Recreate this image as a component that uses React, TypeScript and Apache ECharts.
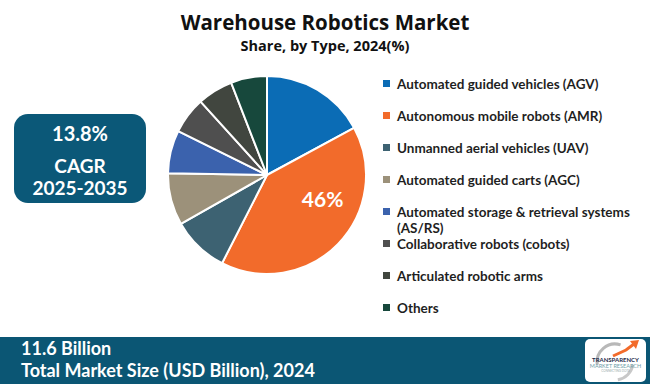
import React, { useEffect, useRef } from "react";
import * as echarts from "echarts";

const categories = [
  "Automated guided vehicles (AGV)",
  "Autonomous mobile robots (AMR)",
  "Unmanned aerial vehicles (UAV)",
  "Automated guided carts (AGC)",
  "Automated storage & retrieval systems\n(AS/RS)",
  "Collaborative robots (cobots)",
  "Articulated robotic arms",
  "Others",
];
const shares = [17.1, 40.4, 9.3, 8.5, 7.0, 6.0, 5.8, 5.9];
const colors = ["#0b6cb5", "#f26b2b", "#3d6272", "#9c917a", "#3b62ad", "#4f4f4f", "#41463f", "#17483c"];
const highlightIndex = 1;
const highlightLabel = "46%";
const titleText = "Warehouse Robotics Market";
const subtitleText = "Share, by Type, 2024(%)";
const cagrLines = ["13.8%", "CAGR", "2025-2035"];
const marketSize = "11.6 Billion";
const marketSizeLabel = "Total Market Size (USD Billion), 2024";

const FONT = "Lato, 'Open Sans', sans-serif";
const WIDE = "'Open Sans', Lato, sans-serif";
const NAVY = "#0b5878";

export default function App() {
  const ref = useRef<HTMLDivElement>(null);
  useEffect(() => {
    document.body.style.margin = "0";
    const chart = echarts.init(ref.current!, null, { renderer: "svg" });

    const legendEls: any[] = [];
    categories.forEach((name, i) => {
      const y = 84 + 32 * i;
      legendEls.push({
        type: "rect",
        shape: { x: 383, y: y - 4, width: 7, height: 7 },
        style: { fill: colors[i] },
      });
      legendEls.push({
        type: "text",
        x: 397,
        y: y - 8.5,
        style: {
          text: name,
          fill: "#1f1f1f",
          font: `bold 13.5px ${FONT}`,
          lineHeight: 16,
          textVerticalAlign: "top",
        },
      });
    });

    chart.setOption({
      animation: false,
      backgroundColor: "#ffffff",
      title: [
        {
          text: titleText,
          left: "center",
          top: 6,
          textStyle: { fontFamily: WIDE, fontWeight: "bold", fontSize: 20.5, color: "#111" },
        },
        {
          text: subtitleText,
          left: "center",
          top: 33,
          textStyle: { fontFamily: WIDE, fontWeight: "bold", fontSize: 14.5, color: "#111" },
        },
      ],
      series: [
        {
          type: "pie",
          center: [267, 175],
          radius: 99,
          startAngle: 90,
          clockwise: true,
          silent: true,
          itemStyle: { borderColor: "#ffffff", borderWidth: 2 },
          label: { show: false },
          labelLine: { show: false },
          data: categories.map((name, i) => ({
            name,
            value: shares[i],
            itemStyle: { color: colors[i] },
            label:
              i === highlightIndex
                ? {
                    show: true,
                    position: "inside",
                    formatter: () => highlightLabel,
                    offset: [18, -13],
                    color: "#fff",
                    fontFamily: FONT,
                    fontWeight: "bold",
                    fontSize: 21,
                  }
                : { show: false },
          })),
        },
      ],
      graphic: [
        {
          type: "rect",
          shape: { x: 14, y: 114, width: 132, height: 89, r: 14 },
          style: { fill: NAVY },
        },
        ...cagrLines.map((t, i) => ({
          type: "text",
          x: 80,
          y: [133, 165, 187][i],
          style: {
            text: t,
            fill: "#fff",
            font: `bold ${i === 0 ? 20 : 19}px ${FONT}`,
            textAlign: "center",
            textVerticalAlign: "middle",
          },
        })),
        ...legendEls,
        {
          type: "rect",
          shape: { x: 0, y: 337, width: 650, height: 47 },
          style: { fill: "#0b5674" },
        },
        {
          type: "text",
          x: 21,
          y: 337,
          style: {
            text: `${marketSize}\n${marketSizeLabel}`,
            fill: "#fff",
            font: `bold 18px ${FONT}`,
            lineHeight: 22,
            textVerticalAlign: "top",
          },
        },
        {
          type: "rect",
          shape: { x: 585, y: 339, width: 61, height: 43, r: 5 },
          style: { fill: "#fff" },
        },
        {
          type: "arc",
          shape: { cx: 615, cy: 362, r: 18, startAngle: Math.PI * 0.95, endAngle: Math.PI * 1.6 },
          style: { stroke: "#b8b8b8", lineWidth: 3, fill: "none" },
        },
        {
          type: "arc",
          shape: { cx: 615, cy: 362, r: 18, startAngle: Math.PI * 0.05, endAngle: Math.PI * 0.45, clockwise: true },
          style: { stroke: "#c8c8c8", lineWidth: 3, fill: "none" },
        },
        {
          type: "polyline",
          shape: { points: [[613, 356], [626, 350], [634, 344]] },
          style: { stroke: "#f26b2b", lineWidth: 3, fill: "none" },
        },
        {
          type: "polygon",
          shape: { points: [[630, 341], [639, 340], [636, 349]] },
          style: { fill: "#f26b2b" },
        },
        {
          type: "text",
          x: 615.5,
          y: 359,
          style: { text: "TRANSPARENCY", fill: "#1d2b4a", font: `bold 6px ${FONT}`, textAlign: "center", textVerticalAlign: "middle" },
        },
        {
          type: "text",
          x: 615.5,
          y: 366,
          style: { text: "MARKET RESEARCH", fill: "#6f9ea8", font: `5.5px ${FONT}`, textAlign: "center", textVerticalAlign: "middle" },
        },
        {
          type: "text",
          x: 615.5,
          y: 371,
          style: { text: "CONNECTING DOTS", fill: "#9aa", font: `3px ${FONT}`, textAlign: "center", textVerticalAlign: "middle" },
        },
      ],
    });
    return () => chart.dispose();
  }, []);
  return <div ref={ref} style={{ width: 650, height: 384 }} />;
}
